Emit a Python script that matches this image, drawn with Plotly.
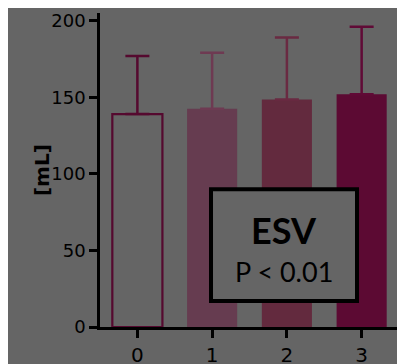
import plotly.graph_objects as go

categories = [0, 1, 2, 3]
tick_labels = ["0", "1", "2", "3"]
means = [139, 142.5, 148.5, 152]
sd_upper = [38, 36.5, 40.5, 44]
y_ticks = [0, 50, 100, 150, 200]

BG = "#656565"
fills = [BG, "#663c50", "#632a3e", "#5c0a33"]
lines = ["#55092f", "#663c50", "#632a3e", "#5c0a33"]
err_colors = ["#55092f", "#6e3a52", "#6a2a42", "#600a36"]

fig = go.Figure()
for i, c in enumerate(categories):
    fig.add_trace(go.Bar(
        x=[c], y=[means[i]], width=0.67,
        marker=dict(color=fills[i], line=dict(color=lines[i], width=2.2 if i == 0 else 0)),
        error_y=dict(type="data", array=[sd_upper[i]], arrayminus=[0], symmetric=False,
                     color=err_colors[i], thickness=2.5, width=12),
        showlegend=False,
    ))

fig.add_shape(type="rect", xref="x", yref="y", x0=0.985, x1=2.938, y0=17, y1=90,
              line=dict(color="black", width=4), fillcolor=BG, layer="above")
fig.add_annotation(x=1.96, y=63.5, xref="x", yref="y", text="<b>ESV</b>", showarrow=False,
                   font=dict(family="Lato", size=36, color="black"))
fig.add_annotation(x=1.96, y=36, xref="x", yref="y", text="P &lt; 0.01", showarrow=False,
                   font=dict(family="Lato", size=27, color="black"))
fig.add_annotation(x=-0.236, y=0.5, xref="paper", yref="paper", text="<b>[mL]</b>",
                   textangle=-90, showarrow=False,
                   font=dict(family="DejaVu Sans", size=20, color="black"))

fig.update_layout(
    width=397, height=356,
    margin=dict(l=92, r=0, t=5, b=37, autoexpand=False),
    paper_bgcolor=BG, plot_bgcolor=BG,
    barmode="overlay",
    font=dict(family="DejaVu Sans", color="black"),
    xaxis=dict(range=[-0.5, 3.58], tickvals=categories, ticktext=tick_labels,
               showline=True, linecolor="black", linewidth=2.5, ticks="outside",
               ticklen=8, tickwidth=2.5, tickcolor="black", showgrid=False, zeroline=False,
               tickfont=dict(size=20, family="DejaVu Sans", color="black"), automargin=False),
    yaxis=dict(range=[0, 205], tickvals=y_ticks, showline=True, linecolor="black",
               linewidth=2.5, ticks="outside", ticklen=8, tickwidth=2.5, tickcolor="black",
               showgrid=False, zeroline=False,
               tickfont=dict(size=18, family="DejaVu Sans", color="black"), automargin=False),
)
fig.write_html("out.html")
